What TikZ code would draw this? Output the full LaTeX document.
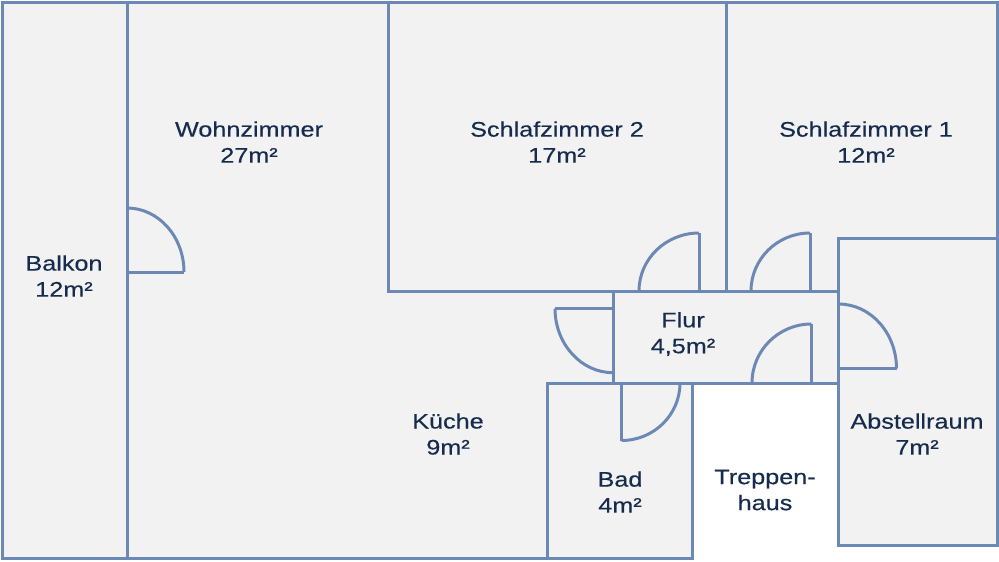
\documentclass[tikz,border=0pt]{standalone}
\usepackage{fontspec}
\setmainfont{Liberation Sans}[FakeStretch=1.2,FakeBold=0.4]
\definecolor{wallc}{RGB}{108,136,181}
\definecolor{floorc}{RGB}{242,242,242}
\definecolor{txtc}{RGB}{22,44,78}
\begin{document}
\begin{tikzpicture}[x=1pt,y=-1pt,
  wall/.style={draw=wallc,line width=3pt,line join=miter,line cap=rect},
  doorleaf/.style={draw=wallc,line width=3pt,line cap=butt},
  lbl/.style={text=txtc,font=\fontsize{21}{26}\selectfont,align=center,inner sep=0pt}]
\useasboundingbox (0,0) rectangle (999,562);
\fill[white] (0,0) rectangle (999,562);
% floor
\fill[floorc] (2,2) -- (997,2) -- (997,545) -- (838,545) -- (838,383) -- (692,383) -- (692,558) -- (2,558) -- cycle;
% outer and inner walls
\draw[wall] (2,558) -- (2,2) -- (997,2) -- (997,545) -- (838,545) -- (838,238) -- (997,238);
\draw[wall] (2,558) -- (692,558) -- (692,383);
\draw[wall] (127,2) -- (127,558);
\draw[wall] (388,2) -- (388,291) -- (838,291);
\draw[wall] (726,2) -- (726,291);
\draw[wall] (613,291) -- (613,383);
\draw[wall] (547,558) -- (547,383) -- (838,383);
% doors
% Wohnzimmer (Balkon wall)
\draw[doorleaf] (127,272) -- (184,272);
\draw[doorleaf] (127,208) .. controls (158.5,208) and (184,236.7) .. (184,272);
% Schlafzimmer 2
\draw[doorleaf] (699,291) -- (699,233);
\draw[doorleaf] (699,233) .. controls (665.9,233) and (639,259) .. (639,291);
% Schlafzimmer 1
\draw[doorleaf] (810,291) -- (810,233);
\draw[doorleaf] (810,233) .. controls (777.4,233) and (751,259) .. (751,291);
% Flur to Treppenhaus
\draw[doorleaf] (811.5,383) -- (811.5,324);
\draw[doorleaf] (811.5,324) .. controls (778.6,324) and (752,350.4) .. (752,383);
% Kueche
\draw[doorleaf] (613,308.5) -- (555,308.5);
\draw[doorleaf] (555,308.5) .. controls (555,343.8) and (581,372.7) .. (613,372.7);
% Bad
\draw[doorleaf] (621.5,383) -- (621.5,440.5);
\draw[doorleaf] (621.5,440.5) .. controls (653.8,440.5) and (680,414.8) .. (680,383);
% Abstellraum
\draw[doorleaf] (838.5,368.5) -- (896.5,368.5);
\draw[doorleaf] (838.5,304) .. controls (870.5,304) and (896.5,332.9) .. (896.5,368.5);
% labels
\node[lbl] (balkon) at (64,276) {Balkon\\12m²};
\node[lbl] (wohn) at (249,142) {Wohnzimmer\\27m²};
\node[lbl] (sz2) at (557,142) {Schlafzimmer 2\\17m²};
\node[lbl] (sz1) at (866,142) {Schlafzimmer 1\\12m²};
\node[lbl] (flur) at (683,334) {Flur\\4,5m²};
\node[lbl] (kueche) at (448,434) {Küche\\9m²};
\node[lbl] (abst) at (917,434) {Abstellraum\\7m²};
\node[lbl] (bad) at (620,492) {Bad\\4m²};
\node[lbl] (trepp) at (765,490) {Treppen-\\haus};
\end{tikzpicture}
\end{document}
